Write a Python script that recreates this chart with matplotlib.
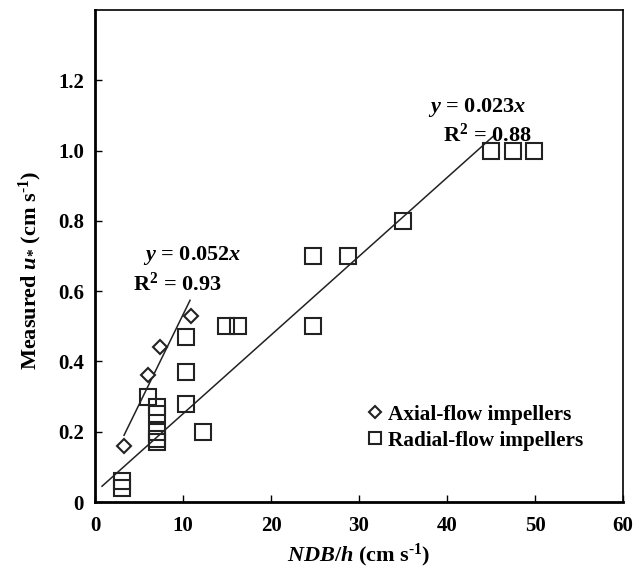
import numpy as np
import matplotlib
matplotlib.use('Agg')
import matplotlib.pyplot as plt

plt.rcParams['font.family'] = 'Liberation Serif'
plt.rcParams['font.weight'] = 'bold'
plt.rcParams['axes.labelweight'] = 'bold'
plt.rcParams['mathtext.fontset'] = 'custom'
plt.rcParams['mathtext.rm'] = 'Liberation Serif:bold'
plt.rcParams['mathtext.it'] = 'Liberation Serif:bold:italic'
plt.rcParams['mathtext.bf'] = 'Liberation Serif:bold'

# axial-flow impellers
axial_x = [3.3, 6.0, 7.4, 10.9]
axial_y = [0.16, 0.36, 0.44, 0.53]

# radial-flow impellers
radial_x = [3.1, 3.1, 6.0, 7.0, 7.0, 7.0, 7.0, 7.0, 10.3, 10.3, 10.3, 12.3,
            14.9, 16.2, 24.8, 24.8, 28.8, 35.0, 45.0, 47.5, 49.9]
radial_y = [0.06, 0.04, 0.30, 0.27, 0.25, 0.20, 0.18, 0.17, 0.47, 0.37, 0.28, 0.20,
            0.50, 0.50, 0.70, 0.50, 0.70, 0.80, 1.00, 1.00, 1.00]

# fitted lines (slope, intercept, x range)
axial_fit = (0.0512, 0.021, 3.3, 10.8)
radial_fit = (0.0224, 0.027, 0.8, 45.4)

fig = plt.figure(figsize=(6.43, 5.72), dpi=100)
ax = fig.add_axes([95 / 643, 1 - 502 / 572, 528 / 643, 492 / 572])

for a, b, x0, x1 in (axial_fit, radial_fit):
    xs = np.array([x0, x1])
    ax.plot(xs, a * xs + b, color='#222222', lw=1.1)

ax.plot(axial_x, axial_y, 'D', ms=7.5, mfc='white', mec='#222222', mew=1.5,
        ls='none', label='Axial-flow impellers')
ax.plot(radial_x, radial_y, 's', ms=11, mfc='none', mec='#222222', mew=1.5,
        ls='none', label='Radial-flow impellers')

fs_ann = 16
ax.text(5.5, 0.69, r'$y$ = 0.052$x$', fontsize=fs_ann)
ax.text(4.3, 0.60, r'R$^{2}$ = 0.93', fontsize=fs_ann)
ax.text(37.8, 1.11, r'$y$ = 0.023$x$', fontsize=fs_ann)
ax.text(39.6, 1.025, r'R$^{2}$ = 0.88', fontsize=fs_ann)

ax.set_xlim(0, 60)
ax.set_ylim(0, 1.4)
ax.set_xticks(np.arange(0, 61, 10))
ax.set_yticks([0, 0.2, 0.4, 0.6, 0.8, 1.0, 1.2])
ax.set_yticklabels(['0', '0.2', '0.4', '0.6', '0.8', '1.0', '1.2'])
ax.tick_params(direction='in', length=5, width=1, labelsize=15, pad=8)
ax.tick_params(axis='x', pad=10)

for s in ('left', 'bottom'):
    ax.spines[s].set_linewidth(2)
for s in ('top', 'right'):
    ax.spines[s].set_linewidth(1.2)

ax.set_xlabel(r'$NDB/h$ (cm s$^{\text{-1}}$)', fontsize=16, labelpad=4)
ax.set_ylabel(r'Measured $u_{*}$ (cm s$^{\text{-1}}$)', fontsize=16)
ax.yaxis.set_label_coords(-0.097, 0.47)

ax.legend(loc='lower right', bbox_to_anchor=(0.96, 0.065), frameon=False,
          fontsize=15.3, handletextpad=0.1, handlelength=1.0, labelspacing=0.3,
          markerscale=0.8)

plt.savefig('out.png', dpi=100)
